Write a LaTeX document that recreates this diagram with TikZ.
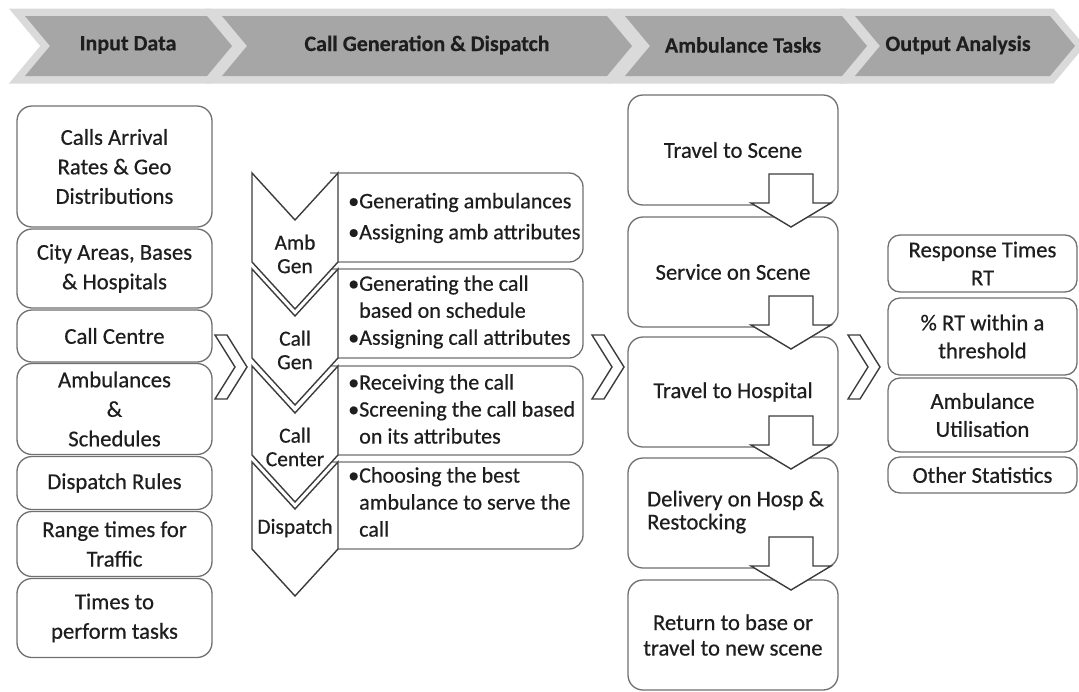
\documentclass[tikz,border=0pt]{standalone}
\usepackage{fontspec}
\setmainfont{Carlito}[FakeBold=0.5]
\newfontfamily\hdrfont{Carlito}[FakeBold=0.4]
\definecolor{hdrdark}{HTML}{A6A6A6}
\definecolor{hdrlight}{HTML}{DADADA}
\definecolor{boxline}{HTML}{707070}
\definecolor{arrline}{HTML}{3C3C3C}
\definecolor{ink}{HTML}{1E1E1E}
% header chevron: left x, right x
\newcommand\hdrchev[2]{(#1,16) -- (#2,16) -- (#2+25,46) -- (#2,76) -- (#1,76) -- (#1+25,46) -- cycle}
% downward chevron of the dispatch column: top y, bottom y
\newcommand\vchev[2]{(252,#1) -- (295,#1+47) -- (338,#1) -- (338,#2) -- (295,#2+47) -- (252,#2) -- cycle}
% small right-pointing chevron: left x
\newcommand\rchev[1]{(#1,335) -- (#1+12,335) -- (#1+32,367) -- (#1+12,399) -- (#1,399) -- (#1+20,367) -- cycle}
% block arrow down below a task box: bottom y of the box
\newcommand\downarr[1]{(769,#1-31) -- (813,#1-31) -- (813,#1-2) -- (831,#1-2) -- (791,#1+22) -- (751,#1-2) -- (769,#1-2) -- cycle}
\begin{document}
\begin{tikzpicture}[x=1pt,y=-1pt,
  hdrborder/.style={draw=hdrlight, line width=15pt, line join=miter},
  hdrtext/.style={text=ink, font=\hdrfont\fontsize{22}{24}\selectfont\bfseries, inner sep=0pt},
  inbox/.style={draw=boxline, line width=1.3pt, rounded corners=15pt, fill=white,
    text=ink, align=center, minimum width=195pt, inner sep=0pt,
    font=\fontsize{22.7}{29.5}\selectfont},
  taskbox/.style={draw=boxline, line width=1.3pt, rounded corners=15pt, fill=white,
    text=ink, align=center, minimum width=210pt, minimum height=110pt, inner sep=0pt,
    font=\fontsize{22.7}{25}\selectfont},
  outbox/.style={draw=boxline, line width=1.3pt, rounded corners=12pt, fill=white,
    text=ink, align=center, minimum width=189pt, inner sep=0pt,
    font=\fontsize{22.7}{28}\selectfont},
  stepline/.style={draw=boxline, line width=1.3pt, rounded corners=14pt},
  plaintext/.style={text=ink, align=left, anchor=west, inner sep=0pt,
    font=\fontsize{22.7}{23}\selectfont},
  bullettext/.style={text=ink, align=left, anchor=west, inner sep=0pt,
    font=\fontsize{22.1}{27}\selectfont},
  chevshape/.style={draw=arrline, line width=1.4pt, fill=white, line join=miter},
  chevtext/.style={text=ink, align=center, inner sep=0pt,
    font=\fontsize{21.5}{23.5}\selectfont},
  flowarrow/.style={draw=arrline, line width=1.4pt, fill=white, line join=miter}]
\useasboundingbox (0,0) rectangle (1079,691);

% ---- phase header ----
\draw[hdrborder] \hdrchev{25}{207};
\fill[hdrdark] \hdrchev{25}{207};
\draw[hdrborder] \hdrchev{222}{607};
\fill[hdrdark] \hdrchev{222}{607};
\draw[hdrborder] \hdrchev{625}{842};
\fill[hdrdark] \hdrchev{625}{842};
\draw[hdrborder] \hdrchev{855}{1050};
\fill[hdrdark] \hdrchev{855}{1050};
\node[hdrtext] (h1) at (128,45) {Input Data};
\node[hdrtext] (h2) at (427,45) {Call Generation \& Dispatch};
\node[hdrtext] (h3) at (743,45) {Ambulance Tasks};
\node[hdrtext] (h4) at (958,45) {Output Analysis};

% ---- input data ----
\node[inbox, minimum height=121pt] (in1) at (114.5,166.5) {Calls Arrival\\Rates \& Geo\\Distributions};
\node[inbox, minimum height=79pt]  (in2) at (114.5,268.5) {City Areas, Bases\\\& Hospitals};
\node[inbox, minimum height=52pt]  (in3) at (114.5,336) {Call Centre};
\node[inbox, minimum height=91pt]  (in4) at (114.5,409) {Ambulances\\\&\\Schedules};
\node[inbox, minimum height=53pt]  (in5) at (114.5,483) {Dispatch Rules};
\node[inbox, minimum height=65pt]  (in6) at (114.5,544) {Range times for\\Traffic};
\node[inbox, minimum height=79pt]  (in7) at (114.5,618) {Times to\\perform tasks};

% ---- phase separators ----
\draw[flowarrow] \rchev{215};
\draw[flowarrow] \rchev{592};
\draw[flowarrow] \rchev{848};

% ---- call generation & dispatch ----
\draw[stepline] (330,173) -- (583,173) -- (583,262) -- (330,262);
\draw[stepline] (330,269) -- (583,269) -- (583,358) -- (330,358);
\draw[stepline] (330,366) -- (583,366) -- (583,455) -- (330,455);
\draw[stepline] (330,462) -- (583,462) -- (583,549) -- (330,549);
\draw[chevshape] \vchev{173}{262};
\draw[chevshape] \vchev{269}{358};
\draw[chevshape] \vchev{366}{455};
\draw[chevshape] \vchev{462}{549};
\node[chevtext] (c1) at (295,254) {Amb\\Gen};
\node[chevtext] (c2) at (295,350) {Call\\Gen};
\node[chevtext] (c3) at (295,447) {Call\\Center};
\node[chevtext] (c4) at (295,528) {Dispatch};
\node[bullettext] (d1) at (348,218) {•Generating ambulances\\[4pt]•Assigning amb attributes};
\node[bullettext] (d2) at (348,312) {•Generating the call\\\phantom{•}based on schedule\\•Assigning call attributes};
\node[bullettext] (d3) at (348,409) {•Receiving the call\\•Screening the call based\\\phantom{•}on its attributes};
\node[bullettext] (d4) at (348,502) {•Choosing the best\\\phantom{•}ambulance to serve the\\\phantom{•}call};

% ---- ambulance tasks ----
\node[taskbox] (t1) at (733,150) {Travel to Scene};
\node[taskbox] (t2) at (733,272) {Service on Scene};
\node[taskbox] (t3) at (733,392) {Travel to Hospital};
\node[taskbox] (t4) at (733,513) {};
\node[plaintext] (t4text) at (647,512) {Delivery on Hosp \&\\Restocking};
\node[taskbox, font=\fontsize{22.7}{25.5}\selectfont] (t5) at (733,635) {Return to base or\\travel to new scene};
\draw[flowarrow] \downarr{205};
\draw[flowarrow] \downarr{327};
\draw[flowarrow] \downarr{447};
\draw[flowarrow] \downarr{568};

% ---- output analysis ----
\node[outbox, minimum height=57pt] (o1) at (982.5,263.5) {Response Times\\RT};
\node[outbox, minimum height=77pt] (o2) at (982.5,336.5) {\% RT within a\\threshold};
\node[outbox, minimum height=74pt] (o3) at (982.5,415) {Ambulance\\Utilisation};
\node[outbox, minimum height=36pt] (o4) at (982.5,475) {Other Statistics};
\end{tikzpicture}
\end{document}
